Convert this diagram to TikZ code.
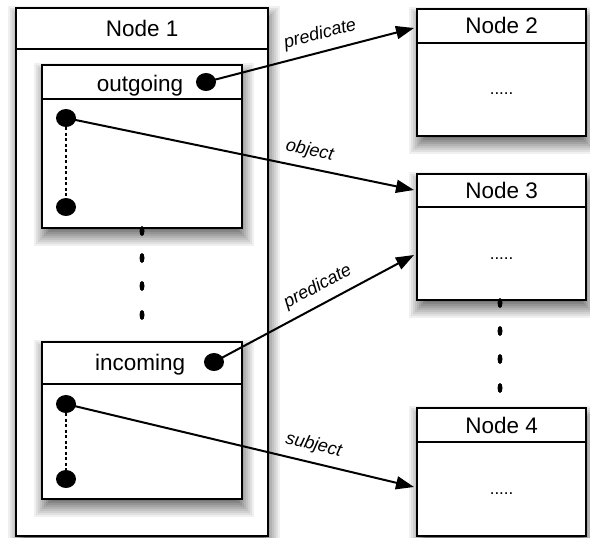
\documentclass[tikz,border=0pt]{standalone}
\usepackage{fontspec}
\setmainfont{Liberation Sans}
\usetikzlibrary{arrows.meta,calc,shapes.geometric}

% shadows sit on their own layers: Node 1's below Node 1, the others above it
\pgfdeclarelayer{shadeA}
\pgfdeclarelayer{backbox}
\pgfdeclarelayer{shadeB}
\pgfsetlayers{shadeA,backbox,shadeB,main}

\begin{document}
\begin{tikzpicture}[x=1pt,y=-1pt,
  box/.style={draw,line width=2.2pt,fill=white,anchor=north west,inner sep=0pt},
  sep/.style={line width=2.2pt},
  title/.style={font=\fontsize{22.5}{26}\selectfont,inner sep=0pt,anchor=base},
  etc/.style={font=\fontsize{17}{20}\selectfont,inner sep=0pt,anchor=base},
  dot/.style={ellipse,fill=black,minimum width=20pt,minimum height=18pt,inner sep=0pt},
  tick/.style={fill=black},
  chain/.style={line width=1.8pt,dash pattern=on 3pt off 2.5pt},
  link/.style={line width=2pt,-{Triangle[length=18pt,width=13pt]}},
  lab/.style={sloped,above=5pt,font=\itshape\fontsize{18}{20}\selectfont,inner sep=3pt},
]
\useasboundingbox (0,0) rectangle (590,538);

% Node 1
\begin{pgfonlayer}{backbox}
\node[box,minimum width=252pt,minimum height=528pt] (n1) at (15,7) {};
\draw[sep] ($(n1.north west)+(0,42)$) -- ($(n1.north east)+(0,42)$);
\node[title] (n1t) at ($(n1.north)+(0,30)$) {Node 1};
\end{pgfonlayer}

% its two inner lists
\node[box,minimum width=200pt,minimum height=163pt] (out) at (41,64) {};
\draw[sep] ($(out.north west)+(0,35)$) -- ($(out.north east)+(0,35)$);
\node[title] (outt) at ($(out.north)+(-2,27)$) {outgoing};

\node[box,minimum width=200pt,minimum height=157pt] (inc) at (41,341) {};
\draw[sep] ($(inc.north west)+(0,43)$) -- ($(inc.north east)+(0,43)$);
\node[title] (inct) at ($(inc.north)+(-2,29)$) {incoming};

% Nodes 2 to 4
\node[box,minimum width=169pt,minimum height=127pt] (n2) at (416,8) {};
\draw[sep] ($(n2.north west)+(0,35)$) -- ($(n2.north east)+(0,35)$);
\node[title] (n2t) at ($(n2.north)+(0,25)$) {Node 2};
\node[etc] (n2e) at ($(n2.north)+(0,86)$) {.....};

\node[box,minimum width=169pt,minimum height=126pt] (n3) at (416,173) {};
\draw[sep] ($(n3.north west)+(0,34)$) -- ($(n3.north east)+(0,34)$);
\node[title] (n3t) at ($(n3.north)+(0,25)$) {Node 3};
\node[etc] (n3e) at ($(n3.north)+(0,86)$) {.....};

\node[box,minimum width=169pt,minimum height=128pt] (n4) at (416,407) {};
\draw[sep] ($(n4.north west)+(0,35)$) -- ($(n4.north east)+(0,35)$);
\node[title] (n4t) at ($(n4.north)+(0,26)$) {Node 4};
\node[etc] (n4e) at ($(n4.north)+(0,87)$) {.....};

% soft drop shadows: nested rectangles, darker towards the middle
\begin{pgfonlayer}{shadeA}
\foreach \sd/\sc in {9/6,7/12,5/18,3/24,1/30,-1/36,-3/42,-5/48,-7/54,-9/60}
  \path[fill=black!\sc] ($(n1.north west)+({1.5-(\sd)},{8-(\sd)})$) rectangle ($(n1.south east)+({1.5+(\sd)},{8+(\sd)})$);
\end{pgfonlayer}
\begin{pgfonlayer}{shadeB}
\foreach \bx in {out,inc,n2,n3,n4}{
  \foreach \sd/\sc in {9/6,7/12,5/18,3/24,1/30,-1/36,-3/42,-5/48,-7/54,-9/60}
    \path[fill=black!\sc] ($(\bx.north west)+({1.5-(\sd)},{8-(\sd)})$) rectangle ($(\bx.south east)+({1.5+(\sd)},{8+(\sd)})$);
}
\end{pgfonlayer}

% vertical ellipsis marks
\foreach \yy in {231,258,286,315} \fill[tick] (142,\yy) ellipse [x radius=2.5, y radius=5];
\foreach \yy in {303,331,359,388} \fill[tick] (500,\yy) ellipse [x radius=2.5, y radius=5];

% list anchors
\node[dot] (od) at (206,82) {};
\node[dot] (oa) at (66,118) {};
\node[dot] (ob) at (66,207) {};
\node[dot] (id) at (214,362) {};
\node[dot] (ia) at (66,404) {};
\node[dot] (ib) at (66,479) {};
\draw[chain] (oa) -- (ob);
\draw[chain] (ia) -- (ib);

% targets on the node borders
\coordinate (t2) at ($(n2.north west)+(-2,20)$);
\coordinate (t3a) at ($(n3.north west)+(-2,17)$);
\coordinate (t3b) at ($(n3.north west)+(-2,82)$);
\coordinate (t4) at ($(n4.north west)+(-2,80)$);

\draw[link] (od.center) -- node[lab,pos=0.57] {predicate} (t2);
\draw[link] (oa.center) -- node[lab,pos=0.69] {object} (t3a);
\draw[link] (id.center) -- node[lab,pos=0.56] {predicate} (t3b);
\draw[link] (ia.center) -- node[lab,pos=0.70] {subject} (t4);
\end{tikzpicture}
\end{document}
